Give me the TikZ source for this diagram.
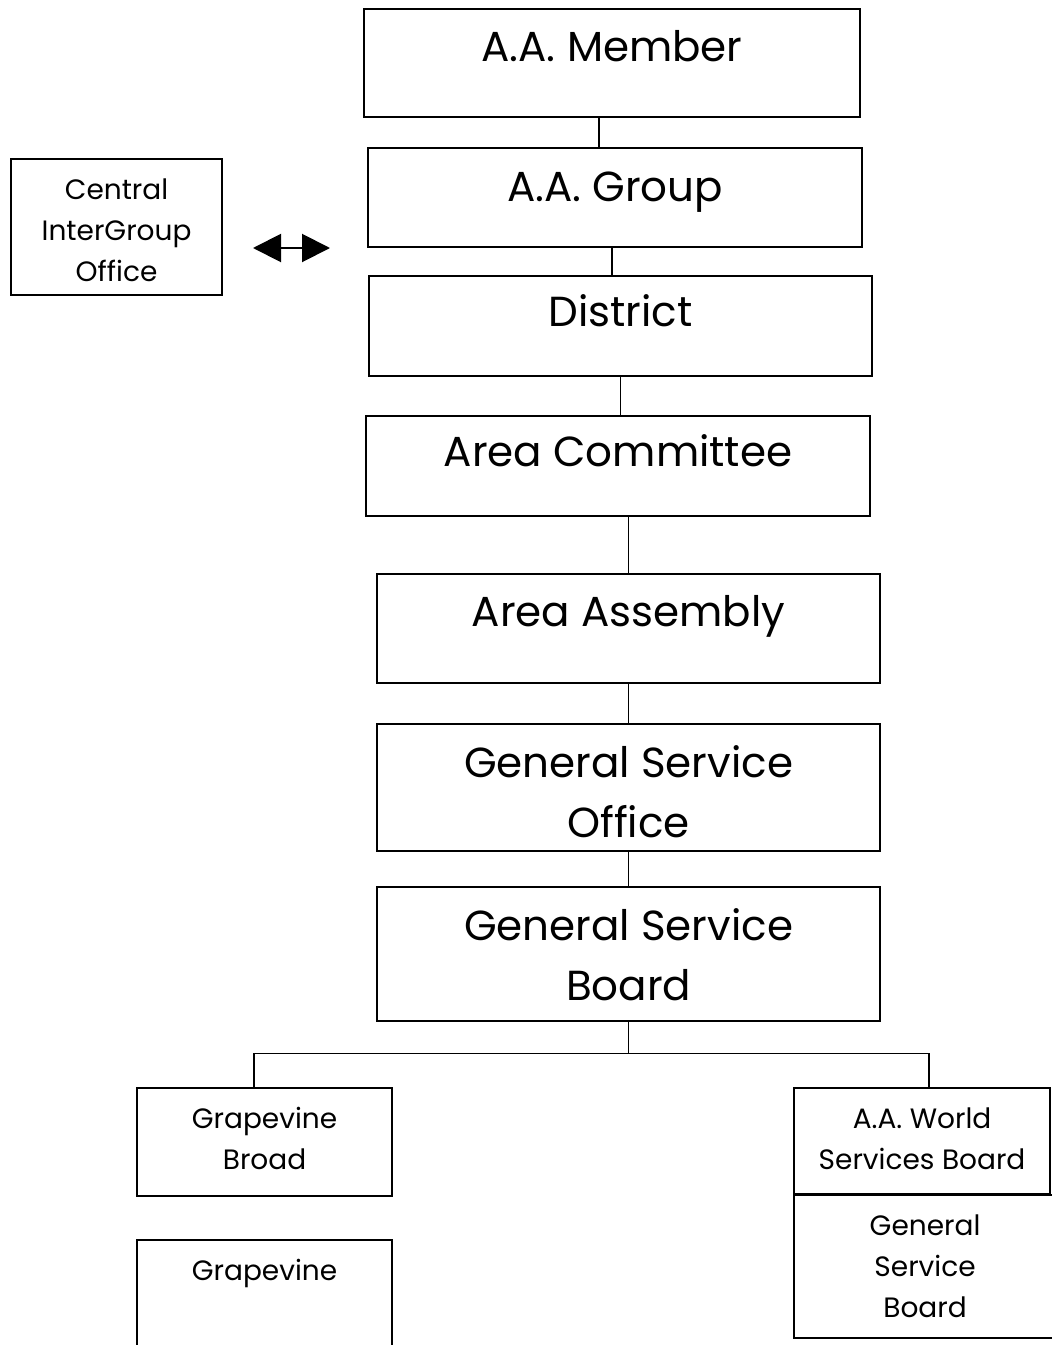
\documentclass[tikz,border=0pt]{standalone}
\usepackage{fontspec}
\setmainfont{Poppins}
\usepackage{tikz}
\usetikzlibrary{arrows.meta,positioning,calc}

\begin{document}
\begin{tikzpicture}[x=0.75pt,y=-0.75pt]
  \tikzset{box/.style={draw,line width=1.6pt,inner sep=0pt,anchor=north west,align=center},
    bigtext/.style={font=\fontsize{31.5}{45}\selectfont},
    smalltext/.style={font=\fontsize{21}{30.75}\selectfont},
    link/.style={line width=0.9pt}}
  \useasboundingbox (0,0) rectangle (1051,1345);
  % main column
  \node[box,bigtext,minimum width=372pt,text height=39pt,text depth=42pt] (member) at (363,8) {A.A. Member};
  \node[box,bigtext,minimum width=370.5pt,text height=39.75pt,text depth=34.5pt] (group) at (367,147) {A.A. Group};
  \node[box,bigtext,minimum width=377.25pt,text height=37.5pt,text depth=37.5pt] (district) at (368,275) {District};
  \node[box,bigtext,minimum width=378pt,text height=37.5pt,text depth=37.5pt] (areacom) at (365,415) {Area Committee};
  \node[box,bigtext,minimum width=377.25pt,text height=39pt,text depth=42.75pt] (assembly) at (376,573) {Area Assembly};
  \node[box,bigtext,minimum width=377.25pt,text height=84.75pt,text depth=10.5pt] (gso) at (376,723) {General Service\\Office};
  \node[box,bigtext,minimum width=377.25pt,text height=84.75pt,text depth=15.75pt] (gsb) at (376,886) {General Service\\Board};
  % side and bottom boxes
  \node[box,smalltext,minimum width=158.25pt,text height=91.5pt,text depth=10.5pt] (central) at (10,158) {Central\\InterGroup\\Office};
  \node[box,smalltext,minimum width=191.25pt,text height=60.75pt,text depth=20.25pt] (gvbroad) at (136,1087) {Grapevine\\Broad};
  \node[box,smalltext,minimum width=191.25pt,text height=30pt,text depth=67.5pt] (grapevine) at (136,1239) {Grapevine};
  \node[box,smalltext,minimum width=192pt,text height=60.75pt,text depth=18.75pt] (aawsb) at (793,1087) {A.A. World\\Services Board};
  \node[box,smalltext,minimum width=196.5pt,text height=91.5pt,text depth=15.75pt] (gsbrd) at (793,1194) {General\\Service\\Board};
  % double arrow
  \coordinate (arrL) at (253,248);
  \coordinate (arrR) at (330,248);
  \draw[{Triangle[length=21pt,width=21pt]}-{Triangle[length=21pt,width=21pt]},line width=1.5pt] (arrL) -- (arrR);
  % links
  \draw[link] ([xshift=-9.75pt]member.south) -- ([xshift=-9.75pt]member.south |- group.north);
  \draw[link] ([xshift=-2.25pt]group.south) -- ([xshift=-2.25pt]group.south |- district.north);
  \draw[link] (district.south) -- (district.south |- areacom.north);
  \draw[link] (assembly.north |- areacom.south) -- (assembly.north);
  \draw[link] (assembly) -- (gso);
  \draw[link] (gso) -- (gsb);
  \draw[link] (gsb.south) -- ++(0,31) coordinate (split);
  \draw[link] ([xshift=-7.875pt]gvbroad.north) |- (split) -| ([xshift=5.25pt]aawsb.north);
\end{tikzpicture}
\end{document}
